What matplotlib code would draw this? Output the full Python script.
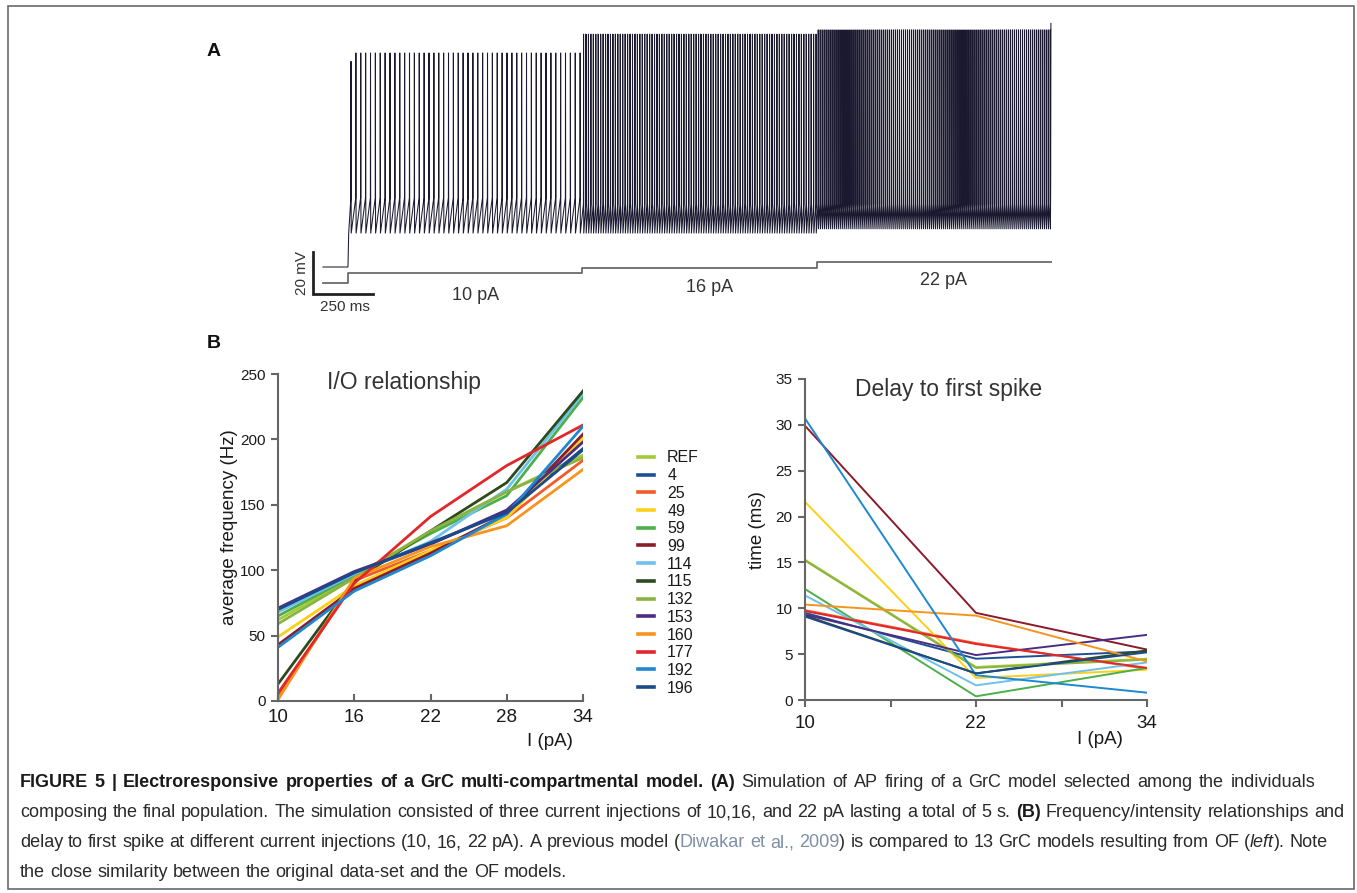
import numpy as np
import matplotlib
matplotlib.use("Agg")
import matplotlib.pyplot as plt
from matplotlib.lines import Line2D
from matplotlib.patches import Rectangle

W, H = 1357, 893
FONT = "Liberation Sans"
plt.rcParams["font.family"] = [FONT, "DejaVu Sans"]

# ---------------- data ----------------
models = ["REF", "4", "25", "49", "59", "99", "114", "115", "132", "153", "160", "177", "192", "196"]
colors = ["#A3CB38", "#1F4E96", "#F15A29", "#FDD017", "#4DAF4A", "#8B1A2B", "#6EC1EA",
          "#2C4A1C", "#8AB33F", "#4B2E83", "#F7941E", "#E3262A", "#1E88D0", "#1A4A8A"]

io_current = [10, 16, 22, 28, 34]
io_freq = {
    "REF": [62, 95, 130, 160, 188],
    "4":   [70, 98, 120, 145, 193],
    "25":  [3, 92, 115, 140, 184],
    "49":  [49, 88, 115, 140, 201],
    "59":  [65, 96, 128, 157, 232],
    "99":  [43, 86, 113, 143, 204],
    "114": [68, 97, 122, 162, 235],
    "115": [13, 92, 130, 167, 237],
    "132": [59, 94, 130, 160, 186],
    "153": [71, 99, 120, 146, 198],
    "160": [1, 94, 118, 134, 177],
    "177": [6, 90, 141, 180, 211],
    "192": [41, 84, 111, 143, 210],
    "196": [70, 98, 121, 144, 192],
}

delay_current = [10, 22, 34]
delay_ms = {
    "REF": [15.3, 3.6, 4.5],
    "4":   [9.5, 4.5, 5.3],
    "25":  [9.8, 6.2, 3.4],
    "49":  [21.6, 2.4, 3.3],
    "59":  [12.1, 0.4, 3.5],
    "99":  [29.9, 9.5, 5.5],
    "114": [11.4, 1.6, 4.1],
    "115": [9.2, 2.9, 5.4],
    "132": [15.2, 3.5, 4.4],
    "153": [9.3, 4.9, 7.1],
    "160": [10.4, 9.2, 4.2],
    "177": [9.7, 6.1, 3.5],
    "192": [30.7, 2.7, 0.8],
    "196": [9.1, 2.9, 5.2],
}

# panel A: step protocol and firing
step_currents_pa = [10, 16, 22]
step_labels = ["10 pA", "16 pA", "22 pA"]
step_start_ms = [104, 1079, 2058]
step_end_ms = [1079, 2058, 3033]
spikes_per_step = [48, 96, 118]
peak_mv = [32, 41, 43]
trough_mv = [-54, -54, -52]
threshold_mv = [-37, -40, -40]
rest_mv = -70

# ---------------- figure ----------------
fig = plt.figure(figsize=(W / 100, H / 100), dpi=100)
fig.patch.set_facecolor("white")


def fx(px):
    return px / W


def fy(py):
    return 1 - py / H


def ax_rect(l, t, r, b):
    return [fx(l), fy(b), (r - l) / W, (b - t) / H]


# outer border
fig.add_artist(Rectangle((fx(8), fy(889)), (1354 - 8) / W, (889 - 6) / H,
                         transform=fig.transFigure, fill=False, ec="#6a6a6a", lw=1.2))

# ---------- panel A ----------
px_per_ms = 0.24
px_per_mv = 2.1
t0_px, rest_px = 323, 267
L, R, T, B = 290, 1070, 10, 320
axA = fig.add_axes(ax_rect(L, T, R, B))
axA.set_xlim((L - t0_px) / px_per_ms, (R - t0_px) / px_per_ms)
axA.set_ylim(rest_mv + (rest_px - B) / px_per_mv, rest_mv + (rest_px - T) / px_per_mv)
axA.axis("off")

ts = [0, step_start_ms[0]]
vs = [rest_mv, rest_mv]
for k in range(3):
    n = spikes_per_step[k]
    isi = (step_end_ms[k] - step_start_ms[k]) / n
    for j in range(n):
        tj = step_start_ms[k] + (j + 0.6) * isi
        if k == 0 and j == 0:
            ts += [step_start_ms[0] + 3, tj]
            vs += [trough_mv[0], threshold_mv[0]]
            pk = peak_mv[0] - 4
        else:
            ts.append(tj)
            vs.append(threshold_mv[k])
            pk = peak_mv[k]
        ts += [tj + 0.5, tj + 1.3]
        vs += [pk, trough_mv[k]]
ts += [step_end_ms[-1] - 1, step_end_ms[-1]]
vs += [threshold_mv[-1] + 10, peak_mv[-1] + 3]
axA.plot(ts, vs, color="#1b1930", lw=0.75, solid_joinstyle="miter")

# current trace on its own scale
axI = fig.add_axes(ax_rect(L, T, R, B))
axI.set_xlim(axA.get_xlim())
base_px, px_per_pa = 283, 0.95
axI.set_ylim((base_px - B) / px_per_pa, (base_px - T) / px_per_pa)
axI.axis("off")
it = [0, step_start_ms[0]]
iv = [0, 0]
for k in range(3):
    it += [step_start_ms[k], step_end_ms[k]]
    iv += [step_currents_pa[k], step_currents_pa[k]]
axI.plot(it, iv, color="#6b6b6b", lw=1.3)
label_px = [(476, 295), (710, 287), (943, 281)]
for (x, y), lab in zip(label_px, step_labels):
    fig.text(fx(x), fy(y), lab, fontsize=13, color="#333333", ha="center", va="center")

# scale bar
sb_t = (313 - t0_px) / px_per_ms
sb_v = rest_mv + (rest_px - 294) / px_per_mv
axA.plot([sb_t, sb_t, sb_t + 250], [sb_v + 20, sb_v, sb_v], color="#222222", lw=2.0,
         solid_joinstyle="miter", clip_on=False)
fig.text(fx(302), fy(273), "20 mV", rotation=90, fontsize=11, color="#333333",
         ha="center", va="center")
fig.text(fx(345), fy(307), "250 ms", fontsize=11, color="#333333", ha="center", va="center")

fig.text(fx(214), fy(52), "A", fontsize=14, fontweight="bold", ha="center", va="center", color="#111111")
fig.text(fx(214), fy(343), "B", fontsize=14, fontweight="bold", ha="center", va="center", color="#111111")

# ---------- panel B left ----------
axL = fig.add_axes(ax_rect(278, 374, 583, 701))
handles = []
for m, c in zip(models, colors):
    axL.plot(io_current, io_freq[m], color=c, lw=2.0, solid_joinstyle="round")
    handles.append(Line2D([0], [0], color=c, lw=2.6))
axL.set_xlim(10, 34)
axL.set_ylim(0, 250)
axL.set_xticks(io_current)
axL.set_yticks(range(0, 251, 50))

# ---------- panel B right ----------
axR = fig.add_axes(ax_rect(805, 379, 1147, 700))
for m, c in zip(models, colors):
    axR.plot(delay_current, delay_ms[m], color=c, lw=1.4)
axR.set_xlim(10, 34)
axR.set_ylim(0, 35)
axR.set_xticks([10, 16, 22, 28, 34])
axR.set_xticklabels(["10", "", "22", "", "34"])
axR.set_yticks(range(0, 36, 5))

for ax, xdir in ((axL, "in"), (axR, "out")):
    for s in ("top", "right"):
        ax.spines[s].set_visible(False)
    for s in ("left", "bottom"):
        ax.spines[s].set_color("#666666")
        ax.spines[s].set_linewidth(1.5)
    ax.tick_params(axis="x", direction=xdir, length=5, width=1.5, color="#666666",
                   labelsize=13.5, labelcolor="#1a1a1a", pad=6)
    ax.tick_params(axis="y", direction="out", length=5, width=1.5, color="#666666",
                   labelsize=11, labelcolor="#1a1a1a", pad=4)
    ax.patch.set_alpha(0)

fig.text(fx(404), fy(382), "I/O relationship", fontsize=16.5, color="#333333", ha="center", va="center")
fig.text(fx(949), fy(389), "Delay to first spike", fontsize=16.5, color="#333333", ha="center", va="center")
fig.text(fx(230), fy(527), "average frequency (Hz)", fontsize=13.5, rotation=90, color="#1a1a1a",
         ha="center", va="center")
fig.text(fx(758), fy(530), "time (ms)", fontsize=13.5, rotation=90, color="#1a1a1a",
         ha="center", va="center")
fig.text(fx(550), fy(741), "I (pA)", fontsize=13.5, color="#1a1a1a", ha="center", va="center")
fig.text(fx(1100), fy(740), "I (pA)", fontsize=13.5, color="#1a1a1a", ha="center", va="center")

fig.legend(handles, models, loc="upper left", bbox_to_anchor=(fx(632), fy(444)),
           frameon=False, fontsize=11.5, handlelength=0.95, handletextpad=0.85,
           labelspacing=0.17, borderaxespad=0, labelcolor="#1a1a1a")

# ---------- caption (justified lines) ----------
fig.canvas.draw()
renderer = fig.canvas.get_renderer()
CAP = 13


def run_width(text, **kw):
    a = fig.text(0, 0, text + "x", fontsize=CAP, **kw)
    b = fig.text(0, 0, "x", fontsize=CAP, **kw)
    w = a.get_window_extent(renderer).width - b.get_window_extent(renderer).width
    a.remove()
    b.remove()
    return w


def draw_line(x0, y_px, runs, x_end=None):
    tokens = []
    for text, kw in runs:
        parts = text.split(" ")
        for i, p in enumerate(parts):
            if i > 0:
                tokens.append((" ", kw))
            if p:
                tokens.append((p, kw))
    widths = [run_width(t, **kw) for t, kw in tokens]
    nsp = sum(1 for t, _ in tokens if t == " ")
    extra = 0.0
    if x_end is not None and nsp:
        extra = (x_end - x0 - sum(widths)) / nsp
    x = x0
    for (t, kw), w in zip(tokens, widths):
        if t == " ":
            x += w + extra
        else:
            fig.text(fx(x), fy(y_px), t, fontsize=CAP, va="baseline", ha="left", **kw)
            x += w


N = dict(color="#2a2a2a")
Bd = dict(color="#1a1a1a", fontweight="bold")
I_ = dict(color="#2a2a2a", fontstyle="italic")
Cl = dict(color="#7f8fa6")
lines = [
    [("FIGURE 5 | Electroresponsive properties of a GrC multi-compartmental model. (A)", Bd),
     (" Simulation of AP firing of a GrC model selected among the individuals", N)],
    [("composing the final population. The simulation consisted of three current injections of 10,16, and 22 pA lasting a total of 5 s. ", N),
     ("(B)", Bd), (" Frequency/intensity relationships and", N)],
    [("delay to first spike at different current injections (10, 16, 22 pA). A previous model (", N),
     ("Diwakar et al., 2009", Cl), (") is compared to 13 GrC models resulting from OF (", N),
     ("left", I_), ("). Note", N)],
    [("the close similarity between the original data-set and the OF models.", N)],
]
line_ends = [1315, 1344, 1328, None]
for i, (ln, xe) in enumerate(zip(lines, line_ends)):
    draw_line(20, 787 + 30 * i, ln, xe)

fig.savefig("out.png", dpi=100, facecolor="white")
